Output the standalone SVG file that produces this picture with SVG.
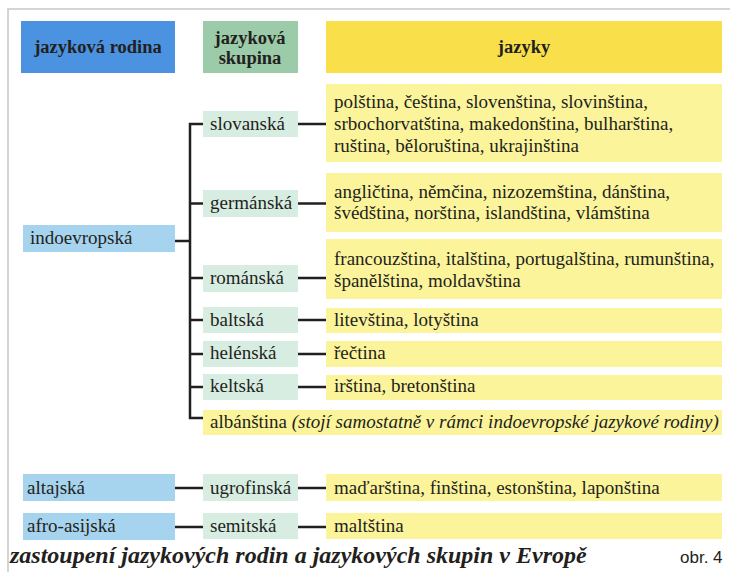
<svg xmlns="http://www.w3.org/2000/svg" width="730" height="572" viewBox="0 0 730 572">
<style>
.t{font-family:"Liberation Serif","Times New Roman",serif;font-size:19px;fill:#231f20}
.h{font-family:"Liberation Serif","Times New Roman",serif;font-size:18.5px;font-weight:bold;fill:#231f20}
.hb{fill:#4b92e0}.hg{fill:#9ccba9}.hy{fill:#f9e04a}
.fam{fill:#a6d3ee}.grp{fill:#d8ede2}.lang{fill:#fcf49a}
.c{stroke:#231f20;stroke-width:2.5;fill:none}
</style>
<rect width="730" height="572" fill="#fff"/>
<path d="M8 572V9H730" stroke="#c8c8c8" stroke-width="1.5" fill="none"/>
<g id="header">
<rect class="hb" x="21" y="21" width="154" height="52"/>
<text class="h" x="98" y="53" text-anchor="middle">jazyková rodina</text>
<rect class="hg" x="203" y="21" width="95" height="52"/>
<text class="h" x="250" y="43.5" text-anchor="middle">jazyková</text>
<text class="h" x="250" y="63.5" text-anchor="middle">skupina</text>
<rect class="hy" x="326" y="21" width="396" height="52"/>
<text class="h" x="524" y="53" text-anchor="middle">jazyky</text>
</g>
<g id="connectors">
<path class="c" d="M203 124H190V418H203"/>
<path class="c" d="M175 241H190"/>
<path class="c" d="M190 203.5H203M190 278H203M190 320H203M190 354H203M190 387H203"/>
<path class="c" d="M298 124H326M298 203.5H326M298 278H326M298 320H326M298 354H326M298 387H326"/>
<path class="c" d="M175 488H203M298 488H326M175 527H203M298 527H326"/>
</g>
<g id="indoevropska"><rect class="fam" x="23" y="225" width="152" height="27"/><text class="t" x="30" y="244">indoevropská</text></g>
<g id="altajska"><rect class="fam" x="23" y="474" width="152" height="27"/><text class="t" x="27" y="494">altajská</text></g>
<g id="afroasijska"><rect class="fam" x="23" y="513" width="152" height="27"/><text class="t" x="27" y="532">afro-asijská</text></g>
<g id="slovanska"><rect class="grp" x="203" y="111" width="95" height="26"/><text class="t" x="210" y="130">slovanská</text></g>
<g id="germanska"><rect class="grp" x="203" y="190" width="95" height="27"/><text class="t" x="210" y="209">germánská</text></g>
<g id="romanska"><rect class="grp" x="203" y="265" width="95" height="27"/><text class="t" x="210" y="284">románská</text></g>
<g id="baltska"><rect class="grp" x="203" y="307" width="95" height="26"/><text class="t" x="210" y="326">baltská</text></g>
<g id="helenska"><rect class="grp" x="203" y="341" width="95" height="26"/><text class="t" x="210" y="359">helénská</text></g>
<g id="keltska"><rect class="grp" x="203" y="374" width="95" height="26"/><text class="t" x="210" y="392">keltská</text></g>
<g id="ugrofinska"><rect class="grp" x="203" y="474" width="95" height="27"/><text class="t" x="210" y="494">ugrofinská</text></g>
<g id="semitska"><rect class="grp" x="203" y="513" width="95" height="26"/><text class="t" x="210" y="532">semitská</text></g>
<g id="albanstina"><rect class="lang" x="203" y="410" width="519" height="25"/><text class="t" x="210" y="428">albánština <tspan font-style="italic">(stojí samostatně v rámci indoevropské jazykové rodiny)</tspan></text></g>
<g id="lang-slovanske"><rect class="lang" x="326" y="84" width="396" height="78"/>
<text class="t" x="334" y="108">polština, čeština, slovenština, slovinština,</text>
<text class="t" x="334" y="130">srbochorvatština, makedonština, bulharština,</text>
<text class="t" x="334" y="152">ruština, běloruština, ukrajinština</text></g>
<g id="lang-germanske"><rect class="lang" x="326" y="173" width="396" height="59"/>
<text class="t" x="334" y="198">angličtina, němčina, nizozemština, dánština,</text>
<text class="t" x="334" y="219">švédština, norština, islandština, vlámština</text></g>
<g id="lang-romanske"><rect class="lang" x="326" y="239" width="396" height="60"/>
<text class="t" x="334" y="265">francouzština, italština, portugalština, rumunština,</text>
<text class="t" x="334" y="287">španělština, moldavština</text></g>
<g id="lang-baltske"><rect class="lang" x="326" y="308" width="396" height="25"/><text class="t" x="334" y="326">litevština, lotyština</text></g>
<g id="lang-helenske"><rect class="lang" x="326" y="341" width="396" height="26"/><text class="t" x="334" y="359">řečtina</text></g>
<g id="lang-keltske"><rect class="lang" x="326" y="375" width="396" height="25"/><text class="t" x="334" y="392">irština, bretonština</text></g>
<g id="lang-ugrofinske"><rect class="lang" x="326" y="474" width="396" height="27"/><text class="t" x="334" y="494">maďarština, finština, estonština, laponština</text></g>
<g id="lang-semitske"><rect class="lang" x="326" y="513" width="396" height="26"/><text class="t" x="334" y="532">maltština</text></g>
<text x="10" y="563" font-family="Liberation Serif,'Times New Roman',serif" font-size="24" font-weight="bold" font-style="italic" fill="#231f20">zastoupení jazykových rodin a jazykových skupin v Evropě</text>
<text x="680" y="563" font-family="Liberation Sans,Arial,sans-serif" font-size="17" fill="#231f20">obr. 4</text>
</svg>
